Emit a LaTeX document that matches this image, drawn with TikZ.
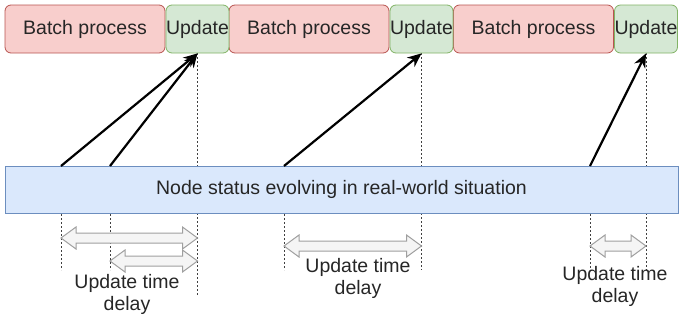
\documentclass[tikz,border=0pt]{standalone}
\usepackage{fontspec}
\setmainfont{Liberation Sans}
\usetikzlibrary{arrows.meta,calc}
\pgfdeclarelayer{background}
\pgfsetlayers{background,main}
\definecolor{batchfill}{HTML}{F8CECC}
\definecolor{batchline}{HTML}{B85450}
\definecolor{updfill}{HTML}{D5E8D4}
\definecolor{updline}{HTML}{82B366}
\definecolor{barfill}{HTML}{DAE8FC}
\definecolor{barline}{HTML}{6C8EBF}
\tikzstyle{block}=[draw,rounded corners=6pt,minimum height=48pt,inner sep=0pt,line width=0.8pt]
\tikzstyle{batch}=[block,fill=batchfill,draw=batchline,minimum width=160pt]
\tikzstyle{update}=[block,fill=updfill,draw=updline,minimum width=63pt]
\tikzstyle{status}=[draw=barline,fill=barfill,minimum width=673pt,minimum height=47pt,line width=0.8pt]
\tikzstyle{event arrow}=[draw,line width=2.2pt,-{Stealth[length=14pt,width=12pt]}]
\tikzstyle{tick line}=[draw=black!75,line width=0.8pt,dash pattern=on 2pt off 2pt]
\tikzstyle{delay}=[draw=gray!75,fill=gray!8,line width=1pt]
\tikzstyle{delay text}=[align=center]
% hollow double arrow between the ticks of #1 and #2, at height #3
\newcommand\delayarrow[3]{%
  \path[delay] let \p1=(#1), \p2=(#2), \p3=(0,#3) in
    (\x1,\y3) -- (\x1+15pt,\y3+11pt) -- (\x1+15pt,\y3+5pt) -- (\x2-15pt,\y3+5pt)
    -- (\x2-15pt,\y3+11pt) -- (\x2,\y3) -- (\x2-15pt,\y3-11pt) -- (\x2-15pt,\y3-5pt)
    -- (\x1+15pt,\y3-5pt) -- (\x1+15pt,\y3-11pt) -- cycle;}

\begin{document}
\begin{tikzpicture}[x=1pt,y=-1pt,font=\fontsize{19.5}{22}\selectfont,text=black!85]
    \useasboundingbox (0,0) rectangle (680,322);
    % Top row: batch runs and their updates
    \foreach \pos/\name in {{(85,29)/b1}, {(309,29)/b2}, {(533.5,29)/b3}}
        \node[batch] (\name) at \pos {Batch process};
    \foreach \pos/\name in {{(197.5,29)/u1}, {(421.5,29)/u2}, {(646,29)/u3}}
        \node[update] (\name) at \pos {Update};

    % The evolving status bar
    \node[status] (bar) at (341.5,189.5) {Node status evolving in real-world situation};
    \coordinate (e1) at (61,166);
    \coordinate (e2) at (110,166);
    \coordinate (e3) at (284,166);
    \coordinate (e4) at (590,166);

    % Time ticks, behind the bar
    \begin{pgfonlayer}{background}
        \foreach \name in {e1,e2,e3,e4}
            \path[tick line] (\name) -- ++(0,104);
        \foreach \name/\len in {u1/242, u2/217, u3/217}
            \path[tick line] (\name.south) -- ++(0,\len);
    \end{pgfonlayer}

    % Status changes picked up by an update
    \foreach \source/\dest in {e1/u1, e2/u1, e3/u2, e4/u3}
        \path[event arrow] (\source) -- (\dest.south);

    % Delays
    \delayarrow{e1}{u1}{238}
    \delayarrow{e2}{u1}{261}
    \delayarrow{e3}{u2}{246}
    \delayarrow{e4}{u3}{246}
    \node[delay text] (t1) at (127,294) {Update time\\delay};
    \node[delay text] (t2) at (358,278.5) {Update time\\delay};
    \node[delay text] (t3) at (615,286.5) {Update time\\delay};
\end{tikzpicture}
\end{document}
